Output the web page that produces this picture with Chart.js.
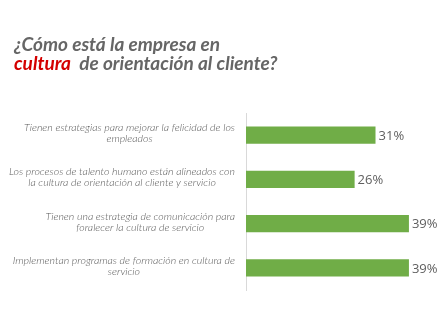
<!DOCTYPE html>
<html>
<head>
<meta charset="utf-8">
<script src="https://cdn.jsdelivr.net/npm/chart.js@4.4.1/dist/chart.umd.min.js"></script>
<style>
  html, body { margin: 0; padding: 0; background: #fff; }
  #wrap { position: relative; width: 448px; height: 333px; overflow: hidden; }
  #c { position: absolute; left: 0; top: 0; }
  .t { position: absolute; left: 14px; font-family: Lato, sans-serif; font-style: italic; font-weight: bold;
       font-size: 19px; color: #666666; white-space: pre; line-height: 1; }
  .red { color: #d40000; }
</style>
</head>
<body>
<div id="wrap">
  <canvas id="c" width="448" height="333"></canvas>
  <div class="t" style="top:34px">¿Cómo está la empresa en</div>
  <div class="t" style="top:53px"><span class="red">cultura</span>  de orientación al cliente?</div>
</div>
<script>
const categories = [
  ["Tienen estrategias para mejorar la felicidad de los", "empleados"],
  ["Los procesos de talento humano están alineados con", "la cultura de orientación al cliente y servicio"],
  ["Tienen una estrategia de comunicación para", "foralecer la cultura de servicio"],
  ["Implementan programas de formación en cultura de", "servicio"]
];
const values = [31, 26, 39, 39];
const valueLabels = ["31%", "26%", "39%", "39%"];

const labelPlugin = {
  id: 'customLabels',
  afterDatasetsDraw(chart) {
    const ctx = chart.ctx;
    const y = chart.scales.y;
    const meta = chart.getDatasetMeta(0);
    ctx.save();
    // category labels: block right-aligned, lines centered within block
    ctx.font = 'italic 300 10.6px Lato, sans-serif';
    ctx.fillStyle = '#595959';
    ctx.textBaseline = 'middle';
    ctx.textAlign = 'center';
    const right = 235, lh = 11;
    categories.forEach((lines, i) => {
      const cy = y.getPixelForValue(i);
      const w = Math.max(...lines.map(l => ctx.measureText(l).width));
      const cx = right - w / 2;
      lines.forEach((l, j) => {
        ctx.fillText(l, cx, cy + (j - (lines.length - 1) / 2) * lh - 2);
      });
    });
    // value labels
    ctx.font = '13px "Open Sans", sans-serif';
    ctx.fillStyle = '#5f5f5f';
    ctx.textAlign = 'left';
    meta.data.forEach((bar, i) => {
      ctx.fillText(valueLabels[i], bar.x + 3, bar.y + 1);
    });
    ctx.restore();
  }
};

new Chart(document.getElementById('c'), {
  type: 'bar',
  data: {
    labels: categories,
    datasets: [{
      data: values,
      backgroundColor: '#70AD47',
      borderWidth: 0,
      barPercentage: 0.385,
      categoryPercentage: 1
    }]
  },
  options: {
    indexAxis: 'y',
    responsive: false,
    animation: false,
    layout: { padding: { left: 246, top: 113, right: 14, bottom: 43 } },
    plugins: { legend: { display: false }, tooltip: { enabled: false }, title: { display: false } },
    scales: {
      x: { display: false, min: 0, max: 45 },
      y: {
        display: true,
        ticks: { display: false },
        grid: { display: false, drawTicks: false },
        border: { display: true, color: '#d9d9d9', width: 1 },
        afterFit(s) { s.width = 0; }
      }
    }
  },
  plugins: [labelPlugin]
});
</script>
</body>
</html>
